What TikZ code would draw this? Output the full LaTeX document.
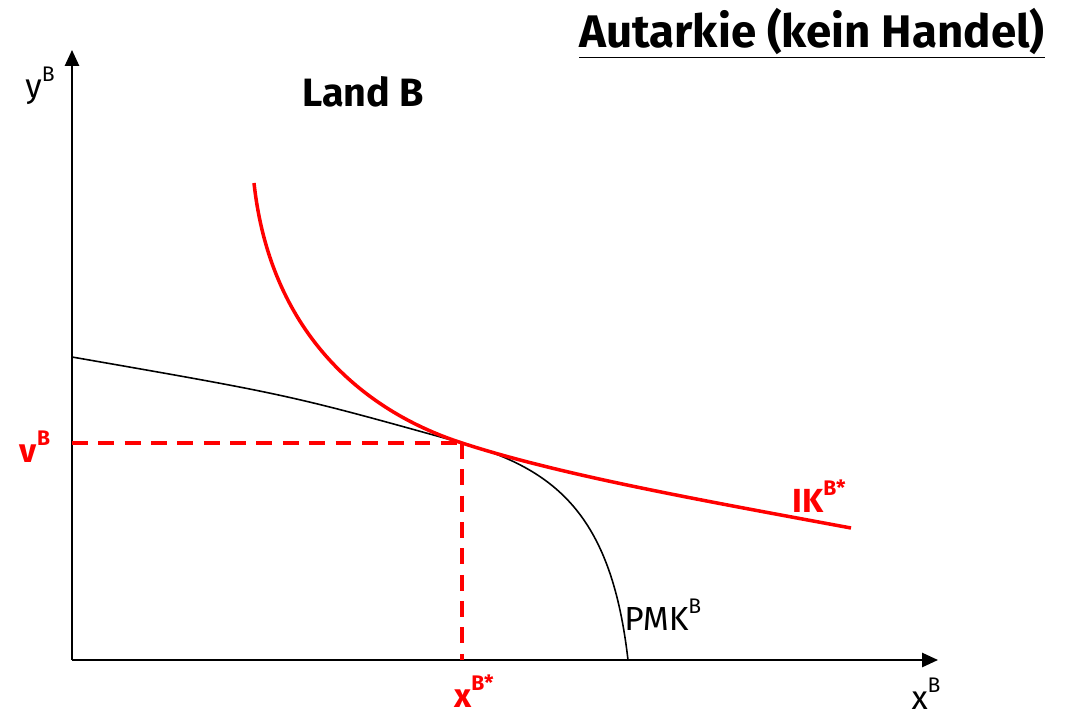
\documentclass[tikz,border=0pt]{standalone}
\usepackage{fontspec}
\setmainfont{Fira Sans}
\usetikzlibrary{positioning, calc, arrows.meta}
\newcommand{\supB}[1]{\raisebox{0.5em}{\fontsize{12}{13}\selectfont #1}}

\begin{document}
\begin{tikzpicture}[x=0.02cm, y=-0.02cm,
    axis/.style={line width=1.2pt, -{Triangle[length=9pt, width=8pt]}},
    ppf/.style={line width=0.9pt},
    ik/.style={red, line width=2pt},
    guide/.style={red, line width=1.8pt, dash pattern=on 9pt off 6pt},
    lbl/.style={font=\fontsize{19}{22}\selectfont, inner sep=0pt},
    redlbl/.style={lbl, red, font=\fontsize{19}{22}\selectfont\bfseries}]

    \useasboundingbox (0,0) rectangle (1068,716);

    % Points
    \coordinate (O) at (72,660);
    \coordinate (ytip) at (72,50);
    \coordinate (xtip) at (938,660);
    \coordinate (P) at (462,443);
    \coordinate (vy) at (72,443);
    \coordinate (vx) at (462,660);

    % Axes
    \draw[axis] (O) -- (ytip);
    \draw[axis] (O) -- (xtip);

    % Transformation curve
    \draw[ppf] (72,357) .. controls (290,395) .. (P)
        .. controls (560,470) and (612,520) .. (628,660);

    % Indifference curve
    \draw[ik] (254,183) .. controls (270,330) and (360,410) .. (P)
        .. controls (560,475) and (700,500) .. (851,528);

    % Optimum
    \draw[guide] (vy) -- (P);
    \draw[guide] (P) -- (vx);

    % Labels
    \node[lbl, font=\fontsize{26}{30}\selectfont\bfseries] (title) at (812,33) {\underline{Autarkie (kein Handel)}};
    \node[lbl, font=\fontsize{22.5}{26}\selectfont\bfseries] (land) at (363,92) {Land B};
    \node[lbl, anchor=base] (ylab) at (40,98) {y\supB{B}};
    \node[lbl, anchor=base] (xlab) at (926,709) {x\supB{B}};
    \node[lbl, anchor=base west] (pmk) at (624,630) {PMK\supB{B}};
    \node[redlbl, anchor=base west] (iklab) at (792,512) {IK\supB{\bfseries B*}};
    \node[redlbl, anchor=base] (vlab) at (35,462) {v\supB{\bfseries B}};
    \node[redlbl, anchor=base] (xstar) at (474,707) {x\supB{\bfseries B*}};

\end{tikzpicture}
\end{document}
